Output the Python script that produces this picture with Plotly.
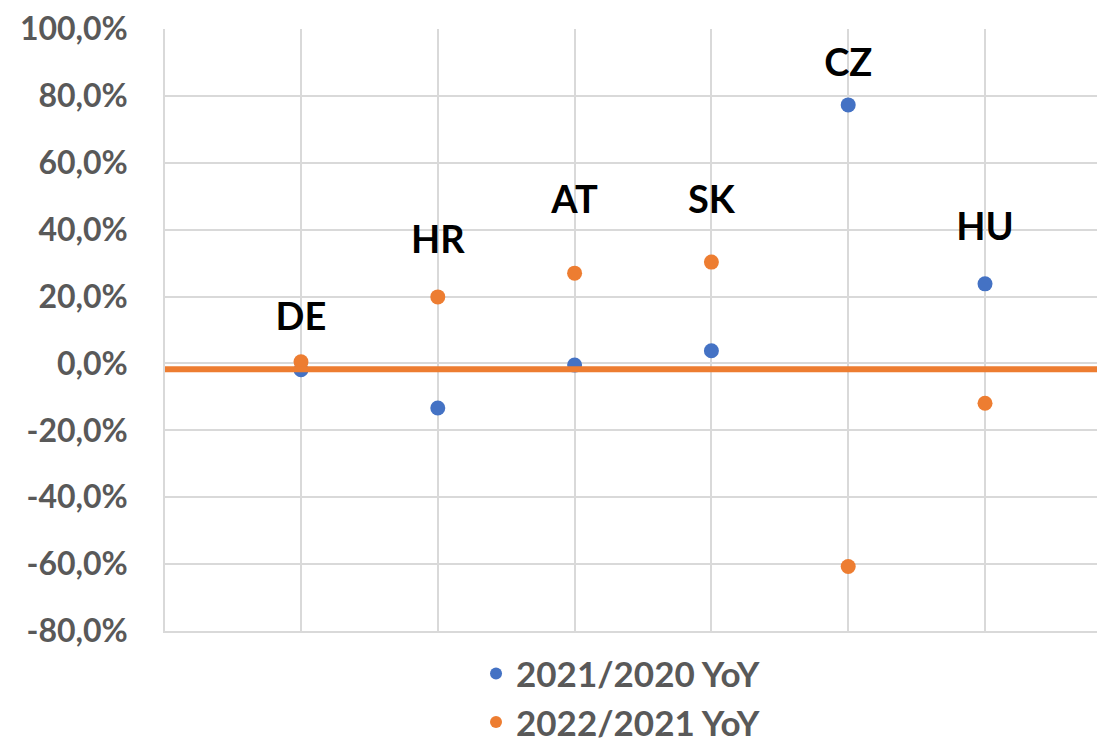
import plotly.graph_objects as go

categories = ["DE", "HR", "AT", "SK", "CZ", "HU"]
yoy_2021_2020 = [-1.9, -13.3, -0.5, 3.8, 77.3, 23.8]
yoy_2022_2021 = [0.5, 19.9, 27.0, 30.3, -60.7, -11.9]
label_levels = [12.9, 35.9, 47.8, 47.8, 88.7, 39.8]
baseline_value = -1.7
y_ticks = [-80, -60, -40, -20, 0, 20, 40, 60, 80, 100]
y_tick_labels = ["-80,0%", "-60,0%", "-40,0%", "-20,0%", "0,0%", "20,0%", "40,0%", "60,0%", "80,0%", "100,0%"]

BLUE = "#4472C4"
ORANGE = "#ED7D31"
GRAY = "#595959"
GRID = "#D9D9D9"
FONT = "Lato"

xpos = list(range(1, len(categories) + 1))

fig = go.Figure()

fig.add_hline(y=baseline_value, line=dict(color=ORANGE, width=6), layer="above")

fig.add_trace(go.Scatter(
    x=xpos, y=yoy_2021_2020, mode="markers", name="2021/2020 YoY",
    marker=dict(color=BLUE, size=15),
))
fig.add_trace(go.Scatter(
    x=xpos, y=yoy_2022_2021, mode="markers", name="2022/2021 YoY",
    marker=dict(color=ORANGE, size=15),
))
fig.add_trace(go.Scatter(
    x=xpos, y=label_levels, mode="text", text=categories, showlegend=False,
    textfont=dict(family=FONT, size=38, color="#000000", weight="bold"),
    textposition="middle center", hoverinfo="skip",
))

fig.update_layout(
    width=1097, height=736,
    margin=dict(l=157, r=0, t=21, b=113, autoexpand=False),
    paper_bgcolor="white", plot_bgcolor="white",
    font=dict(family=FONT, color=GRAY),
    xaxis=dict(
        range=[0.006, 6.877], tickvals=xpos, showticklabels=False,
        showgrid=True, gridcolor=GRID, gridwidth=1.5, zeroline=False,
        showline=True, linecolor=GRID, linewidth=1.5, ticks="",
        automargin=False,
    ),
    yaxis=dict(
        range=[-80, 100], tickvals=y_ticks, ticktext=y_tick_labels,
        showgrid=True, gridcolor=GRID, gridwidth=1.5, zeroline=False,
        showline=True, linecolor=GRID, linewidth=1.5, ticks="",
        tickfont=dict(family=FONT, size=32, color=GRAY, weight="bold"),
        ticklabelstandoff=29, automargin=False,
    ),
    legend=dict(
        orientation="v", x=0.4846, xanchor="center", y=-0.022, yanchor="top",
        font=dict(family=FONT, size=35, color=GRAY, weight="bold"),
        itemsizing="constant", tracegroupgap=0, bgcolor="rgba(0,0,0,0)",
    ),
)

fig.write_html("out.html")
